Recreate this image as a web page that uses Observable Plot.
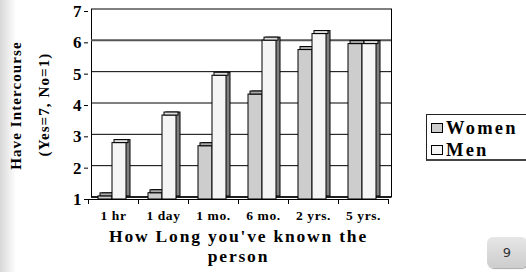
<!DOCTYPE html>
<html>
<head>
<meta charset="utf-8">
<script src="https://cdn.jsdelivr.net/npm/d3@7"></script>
<script src="https://cdn.jsdelivr.net/npm/@observablehq/plot@0.6"></script>
<style>
  html, body { margin: 0; padding: 0; background: #fff; }
  #wrap { position: relative; width: 526px; height: 272px; overflow: hidden; background: #fff; }
  #strip { position: absolute; left: 0; top: 0; width: 16px; height: 272px; background: linear-gradient(to right, #d8d8d8, #ffffff); }
  #chart { position: absolute; left: 0; top: 0; }
  #legend { position: absolute; left: 426px; top: 114px; width: 104px; height: 44px; border: 1px solid #222; border-bottom: 2px solid #444; background: #fff; font-family: "Liberation Serif", serif; font-weight: bold; font-size: 18.5px; letter-spacing: 2.2px; }
  .item { position: absolute; left: 4px; height: 20px; line-height: 20px; white-space: nowrap; }
  .sw { display: inline-block; width: 10px; height: 8px; border: 1px solid #000; margin-right: 3px; vertical-align: 1px; }
  #page { position: absolute; left: 487px; top: 237px; width: 40px; height: 31px; border-radius: 6px; background: linear-gradient(#e6e6e6, #cdcdcd); box-shadow: 1px 1px 1px #aaa; font-family: "DejaVu Sans", sans-serif; font-size: 13px; color: #333; text-align: center; line-height: 31px; }
</style>
</head>
<body>
<div id="wrap">
  <div id="strip"></div>
  <div id="chart"></div>
  <div id="legend"></div>
  <div id="page">9</div>
</div>
<script>
const categories = ["1 hr", "1 day", "1 mo.", "6 mo.", "2 yrs.", "5 yrs."];
const women = [1.1, 1.2, 2.7, 4.35, 5.77, 5.96];
const men = [2.8, 3.68, 4.95, 6.07, 6.28, 5.96];
const seriesNames = ["Women", "Men"];
const seriesColors = ["#cdcdcd", "#f5f5f5"];
const topColors = ["#a9a9a9", "#dcdcdc"];
const yTicks = [1, 2, 3, 4, 5, 6, 7];
const yTitle = ["Have Intercourse", "(Yes=7, No=1)"];
const xTitle = ["How Long you've known the", "person"];

const womenData = categories.map((c, i) => ({cat: c, v: women[i]}));
const menData = categories.map((c, i) => ({cat: c, v: men[i]}));

const serif = "Liberation Serif, Times New Roman, serif";
const side = "#7f7f7f";

function bar3d(data, fill, topFill, insetLeft, insetRight) {
  return [
    Plot.rectY(data, {x: "cat", y1: 1, y2: "v", insetLeft, insetRight, dx: 4, dy: -3, fill: side, stroke: "#000", strokeWidth: 1}),
    Plot.barY(data, {x: "cat", y1: 1, y2: "v", insetLeft, insetRight, fill, stroke: "#000", strokeWidth: 1}),
    Plot.barY(data, {x: "cat", y1: "v", y2: "v", insetLeft, insetRight, insetTop: -3, dx: 2, fill: topFill, stroke: "#000", strokeWidth: 1})
  ];
}

const chart = Plot.plot({
  width: 526,
  height: 272,
  marginLeft: 88,
  marginRight: 138,
  marginTop: 11,
  marginBottom: 73,
  style: {background: "transparent", fontFamily: serif, overflow: "visible"},
  x: {type: "band", domain: categories, padding: 0, axis: null},
  y: {domain: [1, 7], axis: null},
  marks: [
    // back wall
    Plot.frame({dx: 3, dy: -2.5, stroke: "#000", strokeWidth: 1}),
    Plot.ruleY(yTicks.filter(t => t > 1 && t < 6), {y: d => d, dx: 3, dy: -2.5, stroke: "#000", strokeWidth: 1}),
    Plot.ruleY([6], {dx: 3, dy: -2.5, stroke: "#555", strokeWidth: 2}),
    Plot.ruleY([1], {dx: 3, dy: -2.5, stroke: "#000", strokeWidth: 1.5}),
    // front floor edge
    Plot.ruleY([1], {stroke: "#000", strokeWidth: 1}),
    // bars
    ...bar3d(womenData, seriesColors[0], topColors[0], 10, 26),
    ...bar3d(menData, seriesColors[1], topColors[1], 24, 12),
    // x axis boundary ticks
    Plot.ruleX(categories, {x: d => d, dx: -25, y1: 1, y2: 1, insetBottom: -5, stroke: "#000"}),
    Plot.ruleX([categories[categories.length - 1]], {x: d => d, dx: 25, y1: 1, y2: 1, insetBottom: -5, stroke: "#000"}),
    Plot.axisX({tickSize: 0, tickPadding: 11, fontSize: 13.5, fontWeight: "bold", fontFamily: serif, label: null}),
    Plot.axisY({ticks: yTicks, tickSize: 4, tickPadding: 3, fontSize: 17, fontWeight: "bold", fontFamily: serif, tickFormat: d => String(d), label: null}),
    // titles
    Plot.text([xTitle[0]], {text: d => d, frameAnchor: "bottom", dy: 42, fontSize: 17.5, fontWeight: "bold", fontFamily: serif, fill: "#000"}),
    Plot.text([xTitle[1]], {text: d => d, frameAnchor: "bottom", dy: 62, fontSize: 17.5, fontWeight: "bold", fontFamily: serif, fill: "#000"}),
    Plot.text([yTitle[0]], {text: d => d, frameAnchor: "left", textAnchor: "middle", dx: -72, dy: 0, rotate: -90, fontSize: 15, fontWeight: "bold", fontFamily: serif, fill: "#000"}),
    Plot.text([yTitle[1]], {text: d => d, frameAnchor: "left", textAnchor: "middle", dx: -44, dy: -1, rotate: -90, fontSize: 15, fontWeight: "bold", fontFamily: serif, fill: "#000"})
  ]
});

const sel = d3.select(chart).selectAll("text");
sel.filter(function() { return xTitle.includes(this.textContent); }).style("letter-spacing", "1.8px");
sel.filter(function() { return yTitle.includes(this.textContent); }).style("letter-spacing", "1.1px");
sel.filter(function() { return categories.includes(this.textContent); }).style("letter-spacing", "0.6px");

document.getElementById("chart").appendChild(chart);

const legend = document.getElementById("legend");
seriesNames.forEach((name, i) => {
  const it = document.createElement("div");
  it.className = "item";
  it.style.top = (i === 0 ? 3 : 25) + "px";
  const sw = document.createElement("span");
  sw.className = "sw";
  sw.style.background = seriesColors[i];
  it.appendChild(sw);
  it.appendChild(document.createTextNode(name));
  legend.appendChild(it);
});
</script>
</body>
</html>
